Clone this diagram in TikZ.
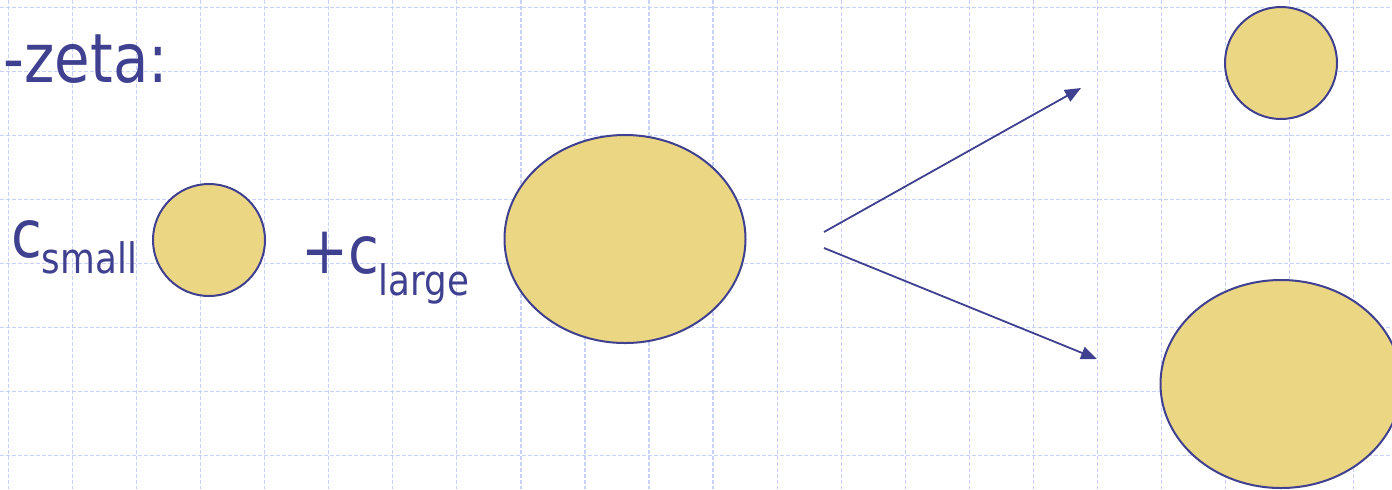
\documentclass[tikz,border=0pt]{standalone}
\usepackage{fontspec}
\newfontfamily\tah[FakeStretch=0.85]{DejaVu Sans}
\usetikzlibrary{arrows.meta,shapes.geometric}
\definecolor{ink}{RGB}{64,64,144}
\definecolor{blob}{RGB}{234,214,131}
\definecolor{gridc}{RGB}{200,210,248}
\tikzset{
  gridline/.style={draw=gridc, line width=0.6pt, dash pattern=on 2pt off 1pt},
  blobshape/.style={ellipse, draw=ink, fill=blob, line width=1pt, inner sep=0pt, outer sep=0pt},
  lbl/.style={text=ink, inner sep=0pt, outer sep=0pt},
  conn/.style={draw=ink, line width=0.9pt, -{Triangle[length=8pt,width=6.5pt]}},
  big/.style={font=\tah\fontsize{33}{33}\selectfont},
}
\newcommand{\subtxt}[2]{\raisebox{-#1}{\fontsize{21}{21}\selectfont #2}}
\begin{document}
\begin{tikzpicture}[x=0.5pt,y=-0.5pt]
\clip (0,0) rectangle (1392,489);
\fill[white] (0,0) rectangle (1392,489);
% grid
\foreach \k in {0,...,21} {\draw[gridline] ({8.5+64.05*\k},0) -- ({8.5+64.05*\k},489);}
\foreach \k in {0,...,7} {\draw[gridline] (0,{7.5+64*\k}) -- (1392,{7.5+64*\k});}
% title
\node[lbl, anchor=base east, font=\tah\fontsize{34}{34}\selectfont] (title) at (168,82) {o-zeta:};
% labels
\node[lbl, big, anchor=base west] (cs) at (11,257) {c\subtxt{8.3pt}{small}};
\node[lbl, big, anchor=base west] (cl) at (301,273) {+c\subtxt{11pt}{large}};
% shapes
\node[blobshape, minimum width=56pt, minimum height=56pt] (small) at (209,240) {};
\node[blobshape, minimum width=120.5pt, minimum height=104pt] (large) at (625,239) {};
\node[blobshape, minimum width=56pt, minimum height=56pt] (outsmall) at (1281,63) {};
\node[blobshape, minimum width=120.5pt, minimum height=104pt] (outlarge) at (1281,384) {};
% arrows
\coordinate (s1) at (824,232);
\coordinate (e1) at (1081,88);
\coordinate (s2) at (824,248);
\coordinate (e2) at (1097,359);
\draw[conn] (s1) -- (e1);
\draw[conn] (s2) -- (e2);
\end{tikzpicture}
\end{document}
